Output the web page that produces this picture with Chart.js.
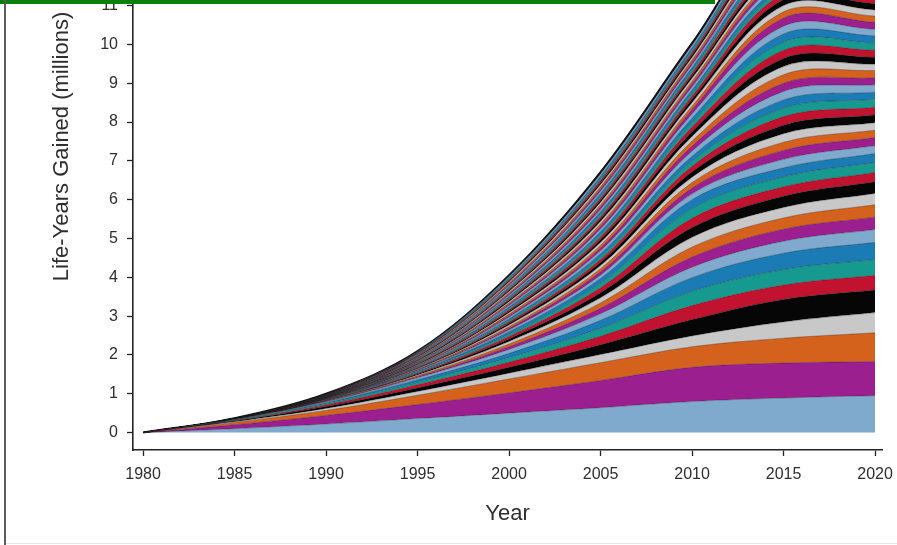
<!DOCTYPE html>
<html>
<head>
<meta charset="utf-8">
<script src="https://cdn.jsdelivr.net/npm/chart.js@4.4.1/dist/chart.umd.min.js"></script>
<style>
    html, body { margin: 0; padding: 0; background: #fff; overflow: hidden; }
    body { width: 897px; height: 545px; position: relative; }
    #top-bar { position: absolute; left: 0; top: 0; width: 715px; height: 4px; background: #0b7f0b; z-index: 2; }
    #left-rule { position: absolute; left: 4px; top: 0; width: 2px; height: 545px; background: #5c5c5c; z-index: 2; }
    #bottom-rule { position: absolute; left: 6px; top: 543px; width: 891px; height: 1px; background: #e6e6e6; }
    /* the source image is a crop: the plot continues above the window */
    #chart-box { position: absolute; left: 0; top: -170px; width: 897px; height: 715px; }
</style>
</head>
<body>
<div id="top-bar"></div>
<div id="left-rule"></div>
<div id="bottom-rule"></div>
<div id="chart-box"><canvas id="lifeYearsChart" width="897" height="715"></canvas></div>

<script>
// Years where each band thickness was read
const years = [1980, 1985, 1990, 1995, 2000, 2005, 2010, 2015, 2020];
const xTickYears = [1980, 1985, 1990, 1995, 2000, 2005, 2010, 2015, 2020];
const yTickValues = [0, 1, 2, 3, 4, 5, 6, 7, 8, 9, 10, 11, 12, 13, 14, 15];

// Colour cycle of the bands, bottom to top
const bandColors = ['#80aacd', '#9c1f90', '#d4621d', '#c8c8c8', '#060606', '#c1122f', '#16998f', '#1b7bb5'];

// Band thickness (millions of life-years), bottom bands first
const lowerBands = [
    [0, 0.10, 0.22, 0.36, 0.50, 0.64, 0.80, 0.89, 0.95],
    [0, 0.10, 0.22, 0.36, 0.52, 0.70, 0.88, 0.90, 0.88],
    [0, 0.06, 0.13, 0.24, 0.36, 0.46, 0.53, 0.64, 0.74],
    [0, 0.02, 0.05, 0.10, 0.15, 0.21, 0.28, 0.42, 0.52],
    [0, 0.02, 0.05, 0.09, 0.15, 0.25, 0.42, 0.58, 0.58],
    [0, 0.01, 0.04, 0.08, 0.13, 0.22, 0.36, 0.37, 0.38],
    [0, 0.01, 0.03, 0.07, 0.12, 0.21, 0.37, 0.40, 0.41],
    [0, 0.01, 0.03, 0.06, 0.11, 0.20, 0.35, 0.42, 0.44],
    [0, 0.01, 0.02, 0.05, 0.10, 0.17, 0.27, 0.31, 0.33]
];

const middleBands = [
    [0, 0.001, 0.008, 0.025, 0.070, 0.14, 0.26, 0.31, 0.32],
    [0, 0.001, 0.008, 0.025, 0.070, 0.14, 0.26, 0.29, 0.32],
    [0, 0.001, 0.008, 0.025, 0.065, 0.13, 0.25, 0.27, 0.29],
    [0, 0.001, 0.008, 0.025, 0.065, 0.13, 0.25, 0.29, 0.30],
    [0, 0.001, 0.008, 0.025, 0.065, 0.13, 0.24, 0.24, 0.24],
    [0, 0.001, 0.008, 0.025, 0.060, 0.12, 0.25, 0.26, 0.26],
    [0, 0.001, 0.008, 0.025, 0.060, 0.12, 0.23, 0.23, 0.23]
];

const upperBands = [
    [0, 0.0005, 0.005, 0.015, 0.045, 0.085, 0.15, 0.22, 0.20],
    [0, 0.0005, 0.005, 0.015, 0.045, 0.085, 0.15, 0.23, 0.21],
    [0, 0.0005, 0.005, 0.014, 0.044, 0.082, 0.14, 0.21, 0.19],
    [0, 0.0005, 0.004, 0.014, 0.043, 0.080, 0.14, 0.22, 0.19],
    [0, 0.0005, 0.004, 0.014, 0.042, 0.078, 0.14, 0.22, 0.20],
    [0, 0.0005, 0.004, 0.013, 0.041, 0.077, 0.14, 0.22, 0.20],
    [0, 0.0005, 0.004, 0.013, 0.040, 0.076, 0.13, 0.22, 0.21],
    [0, 0.0005, 0.004, 0.013, 0.040, 0.075, 0.13, 0.21, 0.18],
    [0, 0.0005, 0.004, 0.013, 0.039, 0.074, 0.13, 0.22, 0.19],
    [0, 0.0005, 0.004, 0.013, 0.039, 0.073, 0.13, 0.21, 0.18],
    [0, 0.0005, 0.004, 0.013, 0.038, 0.072, 0.13, 0.22, 0.19],
    [0, 0.0005, 0.004, 0.012, 0.038, 0.071, 0.12, 0.21, 0.16],
    [0, 0.0005, 0.004, 0.012, 0.037, 0.070, 0.12, 0.21, 0.18],
    [0, 0.0005, 0.004, 0.012, 0.037, 0.070, 0.12, 0.21, 0.18],
    [0, 0.0005, 0.004, 0.012, 0.036, 0.069, 0.12, 0.21, 0.19],
    [0, 0.0005, 0.003, 0.012, 0.036, 0.068, 0.11, 0.21, 0.18],
    [0, 0.0005, 0.003, 0.012, 0.035, 0.067, 0.11, 0.20, 0.17],
    [0, 0.0005, 0.003, 0.012, 0.035, 0.066, 0.11, 0.21, 0.18]
];

const topBands = [
    [0, 0.0005, 0.0035, 0.012, 0.034, 0.065, 0.090, 0.16, 0.16],
    [0, 0.0005, 0.0035, 0.012, 0.034, 0.064, 0.090, 0.16, 0.16],
    [0, 0.0005, 0.0035, 0.012, 0.033, 0.063, 0.085, 0.16, 0.16],
    [0, 0.0005, 0.0035, 0.012, 0.033, 0.062, 0.085, 0.15, 0.15],
    [0, 0.0005, 0.0035, 0.012, 0.033, 0.062, 0.080, 0.110, 0.12],
    [0, 0.0005, 0.0035, 0.012, 0.033, 0.062, 0.078, 0.110, 0.11],
    [0, 0.0005, 0.0035, 0.012, 0.033, 0.061, 0.077, 0.105, 0.12],
    [0, 0.0005, 0.0035, 0.012, 0.032, 0.061, 0.075, 0.105, 0.11],
    [0, 0.0005, 0.0035, 0.012, 0.032, 0.060, 0.074, 0.100, 0.11],
    [0, 0.0005, 0.0035, 0.012, 0.032, 0.060, 0.072, 0.100, 0.12],
    [0, 0.0005, 0.0035, 0.012, 0.032, 0.059, 0.071, 0.100, 0.11],
    [0, 0.0005, 0.0035, 0.012, 0.031, 0.059, 0.070, 0.100, 0.11],
    [0, 0.0005, 0.0035, 0.012, 0.031, 0.058, 0.069, 0.095, 0.10],
    [0, 0.0005, 0.0035, 0.012, 0.031, 0.058, 0.068, 0.095, 0.11],
    [0, 0.0005, 0.0035, 0.011, 0.031, 0.057, 0.067, 0.095, 0.10],
    [0, 0.0005, 0.0035, 0.011, 0.030, 0.057, 0.066, 0.090, 0.10],
    [0, 0.0005, 0.0035, 0.011, 0.030, 0.056, 0.065, 0.090, 0.10],
    [0, 0.0005, 0.0035, 0.011, 0.030, 0.056, 0.064, 0.090, 0.09],
    [0, 0.0005, 0.003, 0.011, 0.030, 0.055, 0.063, 0.090, 0.10],
    [0, 0.0005, 0.003, 0.011, 0.029, 0.055, 0.062, 0.085, 0.09],
    [0, 0.0005, 0.003, 0.011, 0.029, 0.054, 0.062, 0.085, 0.09],
    [0, 0.0005, 0.003, 0.011, 0.029, 0.054, 0.061, 0.085, 0.09],
    [0, 0.0005, 0.003, 0.011, 0.029, 0.053, 0.060, 0.080, 0.08],
    [0, 0.0005, 0.003, 0.011, 0.028, 0.053, 0.060, 0.080, 0.08]
];

const allBands = [...lowerBands, ...middleBands, ...upperBands, ...topBands];
const FONT = "'Liberation Sans', Arial, sans-serif";
const INK = '#2e2e2e';
const lastBand = allBands.length - 1;

const datasets = allBands.map((vals, i) => ({
    data: vals.map((v, j) => ({ x: years[j], y: v })),
    backgroundColor: bandColors[i % bandColors.length],
    borderColor: i === lastBand ? '#111' : 'rgba(20,20,20,0.6)',
    borderWidth: i === lastBand ? 2 : 0.55,
    fill: i === 0 ? 'origin' : '-1',
    pointRadius: 0,
    tension: 0.35
}));

// keep the plot box fixed: no extra room for the end tick labels
const noLabelPadding = s => { s.paddingLeft = 0; s.paddingRight = 0; s.paddingTop = 0; s.paddingBottom = 0; };

new Chart(document.getElementById('lifeYearsChart'), {
    type: 'line',
    data: { datasets },
    options: {
        responsive: false,
        animation: false,
        devicePixelRatio: 1,
        layout: { padding: { top: 13, right: 15, bottom: 0, left: 0 } },
        plugins: { legend: { display: false }, tooltip: { enabled: false } },
        scales: {
            x: {
                type: 'linear',
                min: 1979.45,
                max: 2020.38,
                afterBuildTicks: s => { s.ticks = xTickYears.map(v => ({ value: v })); },
                afterFit: s => { s.height = 95; noLabelPadding(s); },
                ticks: { color: INK, font: { family: FONT, size: 16 }, padding: 9, maxRotation: 0, callback: v => String(v) },
                grid: { drawOnChartArea: false, drawTicks: true, tickLength: 6, tickColor: '#222', tickWidth: 1.3 },
                border: { display: true, color: '#222', width: 1.6 },
                title: { display: true, text: 'Year', color: INK, font: { family: FONT, size: 22 }, padding: { top: 0, bottom: 18 } }
            },
            y: {
                type: 'linear',
                stacked: true,
                min: -0.45,
                max: 15.19,
                afterBuildTicks: s => { s.ticks = yTickValues.map(v => ({ value: v })); },
                afterFit: s => { s.width = 133; noLabelPadding(s); },
                ticks: { color: INK, font: { family: FONT, size: 16 }, padding: 9 },
                grid: { drawOnChartArea: false, drawTicks: true, tickLength: 6, tickColor: '#222', tickWidth: 1.3 },
                border: { display: true, color: '#222', width: 1.6 },
                title: { display: true, text: 'Life-Years Gained (millions)', color: INK, font: { family: FONT, size: 22 }, padding: { top: 49, bottom: 0 } }
            }
        }
    }
});
</script>
</body>
</html>
